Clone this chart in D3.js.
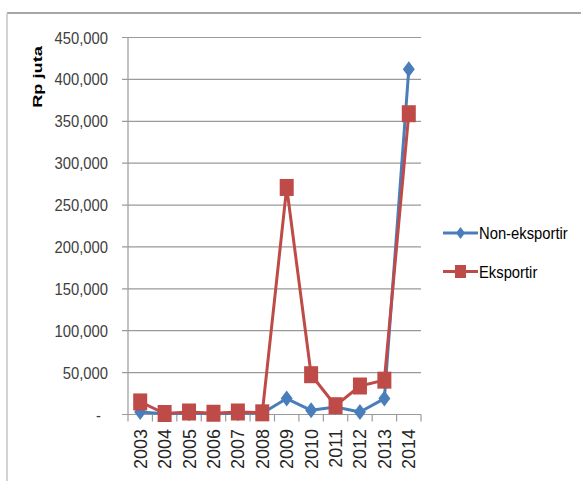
<!DOCTYPE html>
<html>
<head>
<meta charset="utf-8">
<script src="https://cdn.jsdelivr.net/npm/d3@7"></script>
<style>
  html, body { margin: 0; padding: 0; background: #fff; }
  svg { display: block; }
  text { font-family: "Liberation Sans", Arial, sans-serif; }
</style>
</head>
<body>
<svg id="chart" width="581" height="481"></svg>
<script>
// Years on the category axis
const years = ["2003","2004","2005","2006","2007","2008","2009","2010","2011","2012","2013","2014"];
// Values in Rp juta
const nonEksportir = [3000, 1000, 1500, 1000, 1500, 1500, 19000, 5000, 9000, 3000, 19000, 412000];
const eksportir    = [15000, 1200, 3000, 1500, 3000, 2000, 271000, 47500, 10500, 34000, 41000, 359000];
// Value-axis ticks and labels
const yTicks = [0, 50000, 100000, 150000, 200000, 250000, 300000, 350000, 400000, 450000];
const yTickLabels = ["-", "50,000", "100,000", "150,000", "200,000", "250,000", "300,000", "350,000", "400,000", "450,000"];
const seriesNames = ["Non-eksportir", "Eksportir"];
const seriesColors = ["#4A7EBB", "#BE4B48"];

const svg = d3.select("#chart");

// outer frame (top and left edges)
svg.append("line").attr("x1", 7).attr("x2", 581).attr("y1", 13).attr("y2", 13)
  .attr("stroke", "#8a8a8a").attr("stroke-width", 1.5);
svg.append("line").attr("x1", 7).attr("x2", 7).attr("y1", 13).attr("y2", 481)
  .attr("stroke", "#c4c4c4").attr("stroke-width", 1.5);

const plot = { left: 128, right: 421, top: 37.5, bottom: 414.5 };

const x = d3.scaleBand().domain(years).range([plot.left, plot.right]);
const y = d3.scaleLinear().domain([0, 450000]).range([plot.bottom, plot.top]);

// horizontal gridlines with small ticks to the left
const grid = svg.append("g");
grid.selectAll("line").data(yTicks).join("line")
  .attr("x1", plot.left - 6).attr("x2", plot.right)
  .attr("y1", d => y(d)).attr("y2", d => y(d))
  .attr("stroke", "#9a9a9a").attr("stroke-width", 1.2);

// value axis line
svg.append("line").attr("x1", plot.left).attr("x2", plot.left)
  .attr("y1", plot.top).attr("y2", plot.bottom + 7)
  .attr("stroke", "#9a9a9a").attr("stroke-width", 1.2);

// value-axis labels (horizontally condensed)
svg.append("g").selectAll("text").data(yTicks).join("text")
  .attr("transform", d => `translate(${d === 0 ? 101 : 108},${y(d) + 6}) scale(0.87,1)`)
  .attr("text-anchor", "end")
  .attr("font-size", 17)
  .attr("fill", "#404040")
  .text((d, i) => yTickLabels[i]);

// category-axis tick marks at band edges
const edges = years.map(d => x(d)).concat([plot.right]);
svg.append("g").selectAll("line").data(edges.slice(1)).join("line")
  .attr("x1", d => d).attr("x2", d => d)
  .attr("y1", plot.bottom).attr("y2", plot.bottom + 7)
  .attr("stroke", "#9a9a9a").attr("stroke-width", 1.2);

// rotated year labels
svg.append("g").selectAll("text").data(years).join("text")
  .attr("transform", d => `translate(${x(d) + x.bandwidth() / 2 + 6.5},429) rotate(-90)`)
  .attr("text-anchor", "end")
  .attr("font-size", 18)
  .attr("fill", "#262626")
  .text(d => d);

// axis title
svg.append("text")
  .attr("transform", "translate(42,77) rotate(-90) scale(1.4,1)")
  .attr("text-anchor", "middle")
  .attr("font-size", 13)
  .attr("font-weight", "bold")
  .attr("fill", "#000")
  .text("Rp juta");

const line = d3.line().x((d, i) => x(years[i]) + x.bandwidth() / 2).y(d => y(d));

const diamond = (cx, cy, w, h) => `M${cx},${cy - h / 2}L${cx + w / 2},${cy}L${cx},${cy + h / 2}L${cx - w / 2},${cy}Z`;

// Non-eksportir series
svg.append("path").datum(nonEksportir).attr("d", line)
  .attr("fill", "none").attr("stroke", seriesColors[0]).attr("stroke-width", 3)
  .attr("stroke-linejoin", "round");
svg.append("g").selectAll("path").data(nonEksportir).join("path")
  .attr("d", (d, i) => diamond(x(years[i]) + x.bandwidth() / 2, y(d), 12, 16))
  .attr("fill", seriesColors[0]);

// Eksportir series
svg.append("path").datum(eksportir).attr("d", line)
  .attr("fill", "none").attr("stroke", seriesColors[1]).attr("stroke-width", 3)
  .attr("stroke-linejoin", "round");
svg.append("g").selectAll("rect").data(eksportir).join("rect")
  .attr("x", (d, i) => x(years[i]) + x.bandwidth() / 2 - 7)
  .attr("y", d => y(d) - 8.5)
  .attr("width", 14).attr("height", 17)
  .attr("fill", seriesColors[1]);

// legend
const legend = svg.append("g");
const legendY = [233, 271.5];
seriesNames.forEach((name, i) => {
  const g = legend.append("g");
  g.append("line").attr("x1", 443).attr("x2", 478).attr("y1", legendY[i]).attr("y2", legendY[i])
    .attr("stroke", seriesColors[i]).attr("stroke-width", 3);
  if (i === 0) {
    g.append("path").attr("d", diamond(460.5, legendY[i], 9, 12)).attr("fill", seriesColors[i]);
  } else {
    g.append("rect").attr("x", 455).attr("y", legendY[i] - 6.5).attr("width", 11).attr("height", 13)
      .attr("fill", seriesColors[i]);
  }
  g.append("text").attr("transform", `translate(479,${legendY[i] + 6}) scale(0.87,1)`)
    .attr("font-size", 17).attr("fill", "#000").text(name);
});
</script>
</body>
</html>
